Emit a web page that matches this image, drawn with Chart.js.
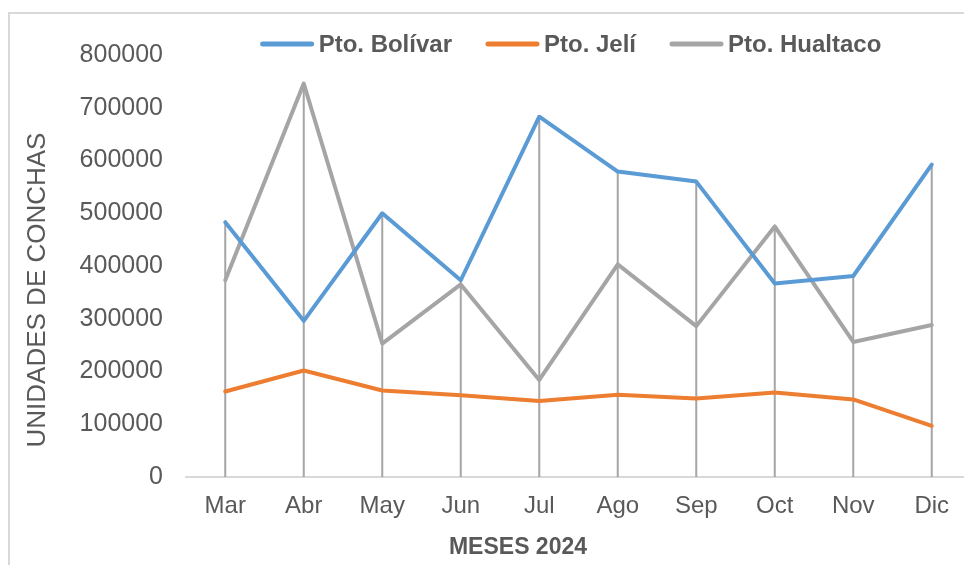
<!DOCTYPE html>
<html lang="es">
<head>
<meta charset="utf-8">
<title>Unidades de conchas 2024</title>
<script src="https://cdn.jsdelivr.net/npm/chart.js@4.4.1/dist/chart.umd.min.js"></script>
<style>
  html, body { margin: 0; padding: 0; background: #fff; overflow: hidden; }
  #wrap { position: relative; width: 964px; height: 565px; overflow: hidden; }
  #frame { position: absolute; left: 8px; top: 12px; width: 1000px; height: 600px; border: 2px solid #d9d9d9; box-sizing: border-box; }
  canvas { position: absolute; left: 0; top: 0; }
</style>
</head>
<body>
<div id="wrap">
  <div id="frame"></div>
  <canvas id="chart" width="1000" height="565"></canvas>
</div>
<script>
// Datos
const meses = ["Mar", "Abr", "May", "Jun", "Jul", "Ago", "Sep", "Oct", "Nov", "Dic"];
const ptoBolivar = [483000, 296000, 500000, 373000, 683000, 579000, 560000, 367000, 381000, 592000];
const ptoJeli = [162000, 202000, 164000, 155000, 144000, 156000, 149000, 160000, 147000, 97000];
const ptoHualtaco = [373000, 746000, 253000, 365000, 184000, 403000, 286000, 475000, 256000, 288000];
const tituloY = "UNIDADES DE CONCHAS";
const tituloX = "MESES 2024";

const fuente = "'Liberation Sans', Arial, sans-serif";
const gris = "#595959";

// Líneas verticales desde el punto más alto hasta el eje
const lineasCaida = {
    id: "lineasCaida",
    beforeDatasetsDraw(chart) {
        const ctx = chart.ctx;
        const bottom = chart.chartArea.bottom;
        ctx.save();
        ctx.strokeStyle = "#a5a5a5";
        ctx.lineWidth = 2;
        chart.data.labels.forEach((_, i) => {
            let topY = bottom;
            let x = null;
            chart.data.datasets.forEach((ds, d) => {
                const pt = chart.getDatasetMeta(d).data[i];
                if (pt) {
                    topY = Math.min(topY, pt.y);
                    x = pt.x;
                }
            });
            if (x === null) return;
            ctx.beginPath();
            ctx.moveTo(x, topY);
            ctx.lineTo(x, bottom);
            ctx.stroke();
        });
        ctx.restore();
    }
};

// Leyenda y títulos de ejes
const textos = {
    id: "textos",
    afterDraw(chart) {
        const ctx = chart.ctx;
        ctx.save();

        // leyenda
        ctx.font = "bold 24px " + fuente;
        const largoLinea = 53, hueco = 5, separacion = 34;
        const items = chart.data.datasets.map(ds => ({
            label: ds.label,
            color: ds.borderColor,
            w: largoLinea + hueco + ctx.measureText(ds.label).width
        }));
        const total = items.reduce((s, it) => s + it.w, 0) + separacion * (items.length - 1);
        let x = 571 - total / 2;
        const y = 44;
        items.forEach(it => {
            ctx.strokeStyle = it.color;
            ctx.lineWidth = 5;
            ctx.lineCap = "round";
            ctx.beginPath();
            ctx.moveTo(x + 2, y);
            ctx.lineTo(x + largoLinea - 2, y);
            ctx.stroke();
            ctx.fillStyle = gris;
            ctx.textAlign = "left";
            ctx.textBaseline = "middle";
            ctx.fillText(it.label, x + largoLinea + hueco, y + 1);
            x += it.w + separacion;
        });

        // título eje Y
        ctx.font = "26px " + fuente;
        ctx.fillStyle = gris;
        ctx.textAlign = "center";
        ctx.textBaseline = "middle";
        ctx.translate(38, 290);
        ctx.rotate(-Math.PI / 2);
        ctx.fillText(tituloY, 0, 0);
        ctx.setTransform(1, 0, 0, 1, 0, 0);

        // título eje X
        ctx.font = "bold 23px " + fuente;
        ctx.fillText(tituloX, 518, 548);
        ctx.restore();
    }
};

const ctx = document.getElementById("chart").getContext("2d");
new Chart(ctx, {
    type: "line",
    data: {
        labels: meses,
        datasets: [
            { label: "Pto. Bolívar", data: ptoBolivar, borderColor: "#5b9bd5", backgroundColor: "#5b9bd5" },
            { label: "Pto. Jelí", data: ptoJeli, borderColor: "#ed7d31", backgroundColor: "#ed7d31" },
            { label: "Pto. Hualtaco", data: ptoHualtaco, borderColor: "#a5a5a5", backgroundColor: "#a5a5a5" }
        ]
    },
    options: {
        responsive: false,
        animation: false,
        devicePixelRatio: 1,
        datasets: {
            line: {
                borderWidth: 4,
                pointRadius: 0,
                pointHoverRadius: 0,
                tension: 0,
                borderJoinStyle: "round",
                borderCapStyle: "round"
            }
        },
        layout: { padding: { left: 0, top: 55, right: 29, bottom: 0 } },
        plugins: {
            legend: { display: false },
            title: { display: false },
            tooltip: { enabled: false }
        },
        scales: {
            x: {
                offset: true,
                grid: { display: false, drawTicks: false },
                border: { display: true, color: "#d9d9d9", width: 2 },
                ticks: { color: gris, font: { family: fuente, size: 24 }, padding: 15, maxRotation: 0 },
                afterFit(scale) { scale.height = 88; }
            },
            y: {
                min: 0,
                max: 800000,
                grid: { display: false, drawTicks: false },
                border: { display: false },
                ticks: {
                    stepSize: 100000,
                    color: gris,
                    font: { family: fuente, size: 25 },
                    padding: 23,
                    callback: v => String(v)
                },
                afterFit(scale) { scale.width = 186; }
            }
        }
    },
    plugins: [lineasCaida, textos]
});
</script>
</body>
</html>
